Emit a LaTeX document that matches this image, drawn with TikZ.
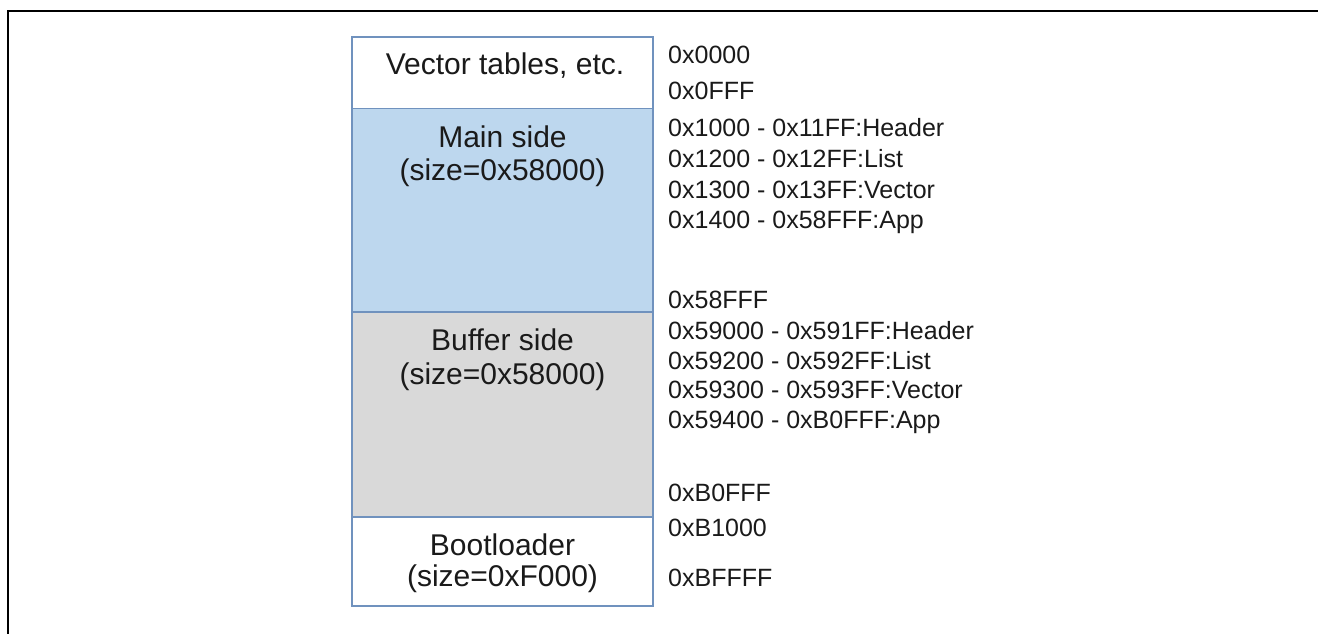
\documentclass[tikz,border=0pt]{standalone}
\usepackage{fontspec}
\setmainfont{Liberation Sans}
\definecolor{edgeblue}{RGB}{112,146,190}
\definecolor{mainfill}{RGB}{189,215,238}
\definecolor{buffill}{RGB}{217,217,217}
\definecolor{txt}{RGB}{26,26,26}
\begin{document}
\begin{tikzpicture}[x=1pt,y=-1pt,
  region/.style={draw=edgeblue,line width=1.8pt,minimum width=301pt,inner sep=0pt,outer sep=0pt},
  boxtext/.style={anchor=base,inner sep=0pt,text=txt,font=\fontsize{30}{35}\selectfont},
  addr/.style={anchor=base west,inner sep=0pt,text=txt,font=\fontsize{25}{30}\selectfont},
  frameline/.style={line width=2.2pt,black}]
\useasboundingbox (0,0) rectangle (1318,634);
% outer frame (only the top and left sides fall inside the picture)
\coordinate (fbl) at (8.3,634);
\coordinate (ftl) at (8.3,11.3);
\coordinate (ftr) at (1318,11.3);
\draw[frameline] (fbl) -- (ftl) -- (ftr);
% memory regions
\node[region,fill=white,minimum height=71.8pt] (vt) at (502.5,72.6) {};
\node[region,fill=mainfill,minimum height=203.5pt] (main) at (502.5,210.25) {};
\node[region,fill=buffill,minimum height=205pt] (buf) at (502.5,414.5) {};
\node[region,fill=white,minimum height=89pt] (boot) at (502.5,561.5) {};
% region labels
\node[boxtext] (vtl) at (505,75) {Vector tables, etc.};
\node[boxtext] (mainl1) at (502.5,147) {Main side};
\node[boxtext] (mainl2) at (502.5,180) {(size=0x58000)};
\node[boxtext] (bufl1) at (502.5,350) {Buffer side};
\node[boxtext] (bufl2) at (502.5,384) {(size=0x58000)};
\node[boxtext] (bootl1) at (502.5,555.5) {Bootloader};
\node[boxtext] (bootl2) at (502.5,586) {(size=0xF000)};
% addresses
\node[addr] (a1) at (668,64) {0x0000};
\node[addr] (a2) at (668,99.3) {0x0FFF};
\node[addr] (a3) at (668,136) {0x1000 - 0x11FF:Header};
\node[addr] (a4) at (668,167) {0x1200 - 0x12FF:List};
\node[addr] (a5) at (668,198) {0x1300 - 0x13FF:Vector};
\node[addr] (a6) at (668,228) {0x1400 - 0x58FFF:App};
\node[addr] (a7) at (668,308.3) {0x58FFF};
\node[addr] (a8) at (668,339.3) {0x59000 - 0x591FF:Header};
\node[addr] (a9) at (668,369.3) {0x59200 - 0x592FF:List};
\node[addr] (a10) at (668,398.3) {0x59300 - 0x593FF:Vector};
\node[addr] (a11) at (668,428.3) {0x59400 - 0xB0FFF:App};
\node[addr] (a12) at (668,501.7) {0xB0FFF};
\node[addr] (a13) at (668,536) {0xB1000};
\node[addr] (a14) at (668,586) {0xBFFFF};
\end{tikzpicture}
\end{document}
